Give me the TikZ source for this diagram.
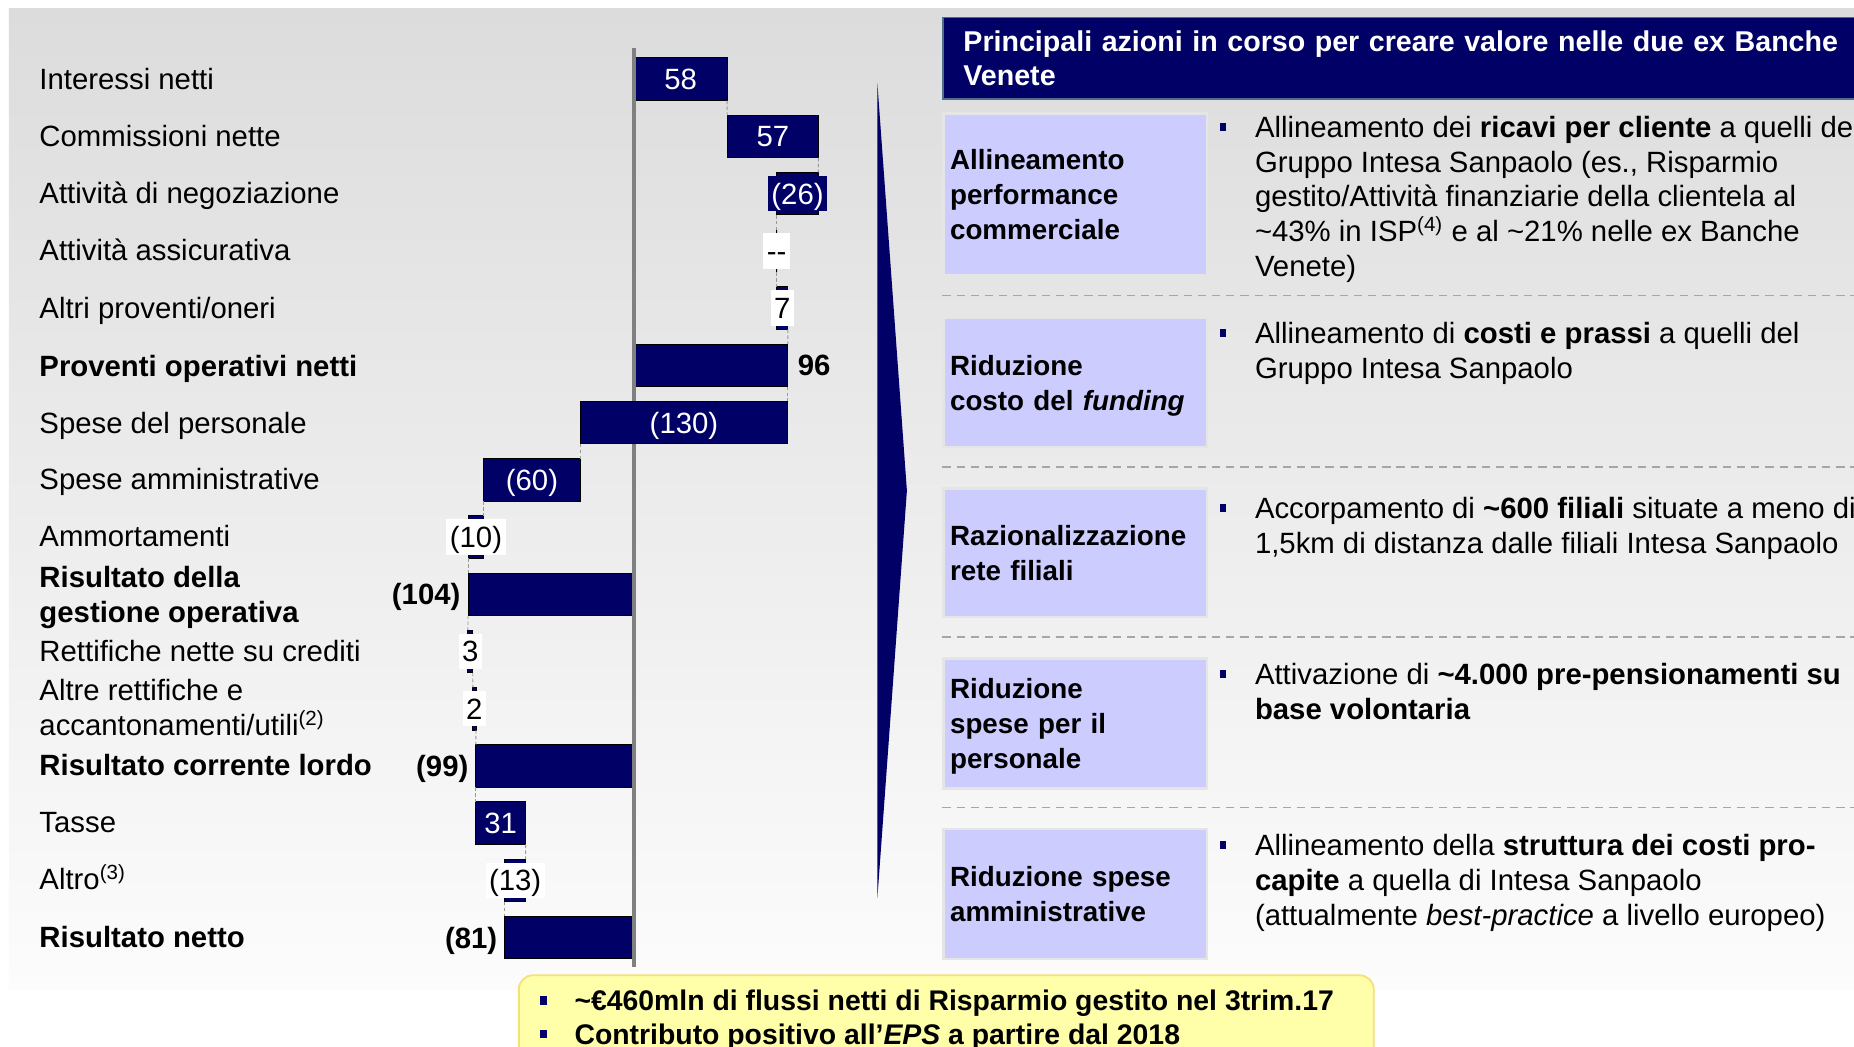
\documentclass[tikz,border=0pt]{standalone}
\usepackage{fontspec}
\setmainfont{Liberation Sans}
\usepackage{tikz}
\usetikzlibrary{positioning}

\definecolor{barnavy}{RGB}{0,0,102}
\definecolor{boxlav}{RGB}{204,204,255}
\definecolor{notefill}{RGB}{255,255,170}
\definecolor{noteline}{RGB}{245,225,120}
\definecolor{bgtop}{RGB}{220,220,220}
\definecolor{bgbot}{RGB}{252,252,252}
\definecolor{axisgray}{RGB}{128,128,128}
\definecolor{hdrline}{RGB}{80,110,140}

\newcommand\chartfont{\fontsize{12.4}{14.75}\selectfont}
\newcommand\catfont{\fontsize{11.75}{14.75}\selectfont}

\tikzset{
  wbar/.style={draw=black,line width=0.4pt,fill=barnavy,minimum height=18pt,inner sep=0pt,outer sep=0pt},
  vlbl/.style={font=\chartfont,text height=9.6pt,text depth=0.8pt,inner sep=0pt},
  inlbl/.style={vlbl,text=white},
  boxlbl/.style={vlbl,fill=white,inner xsep=1.5pt,minimum height=15pt},
  navylbl/.style={vlbl,fill=barnavy,text=white,inner xsep=1.5pt,minimum height=15pt},
  sumlbl/.style={vlbl,font=\chartfont\bfseries},
  rowlbl/.style={font=\chartfont,anchor=base west,inner sep=0pt,align=left},
  rowsum/.style={rowlbl,font=\chartfont\bfseries},
  conn/.style={draw=gray!80,line width=0.4pt,dash pattern=on 1.5pt off 1pt},
  axisln/.style={draw=axisgray,line width=1.7pt},
  hdrbox/.style={fill=barnavy,draw=hdrline,line width=0.8pt,anchor=north west,text width=380pt,
    inner xsep=8.5pt,minimum height=34.5pt,align=left,text=white,font=\fontsize{12.1}{14.65}\selectfont\bfseries},
  catbox/.style={fill=boxlav,draw=black!10,line width=1pt,anchor=north west,text width=106pt,
    inner xsep=2.75pt,align=left,font=\catfont\bfseries},
  itemtxt/.style={font=\chartfont,anchor=base west,inner sep=0pt,align=left},
  bsq/.style={fill=barnavy,minimum width=2.6pt,minimum height=3.4pt,inner sep=0pt},
  sepln/.style={draw=gray!70,line width=0.7pt,dash pattern=on 3.5pt off 2.5pt},
  notebox/.style={fill=notefill,draw=noteline,line width=0.8pt,rounded corners=6pt,anchor=north west,
    minimum width=361.5pt,minimum height=40pt},
  notetxt/.style={font=\fontsize{12}{14.75}\selectfont\bfseries,anchor=base west,inner sep=0pt}
}

\begin{document}
\begin{tikzpicture}[x=0.5pt,y=-0.5pt]
\useasboundingbox (0,0) rectangle (1568,885);
\fill[white] (0,0) rectangle (1568,885);
\shade[top color=bgtop,bottom color=bgbot] (7.6,7.6) rectangle (1568,837);

% voci del conto economico
\node[rowlbl] (l1) at (33,75.6) {Interessi netti};
\node[rowlbl] (l2) at (33,124.2) {Commissioni nette};
\node[rowlbl] (l3) at (33,172.4) {Attività di negoziazione};
\node[rowlbl] (l4) at (33,220.6) {Attività assicurativa};
\node[rowlbl] (l5) at (33,269.2) {Altri proventi/oneri};
\node[rowsum] (l6) at (33,318.4) {Proventi operativi netti};
\node[rowlbl] (l7) at (33,366.5) {Spese del personale};
\node[rowlbl] (l8) at (33,414) {Spese amministrative};
\node[rowlbl] (l9) at (33,462.6) {Ammortamenti};
\node[rowsum] (l10) at (33,526.3) {Risultato della\\gestione operativa};
\node[rowlbl] (l11) at (33,559.8) {Rettifiche nette su crediti};
\node[rowlbl] (l12) at (33,622) {Altre rettifiche e\\accantonamenti/utili\textsuperscript{(2)}};
\node[rowsum] (l13) at (33,656) {Risultato corrente lordo};
\node[rowlbl] (l14) at (33,704.3) {Tasse};
\node[rowlbl] (l15) at (33,752.5) {Altro\textsuperscript{(3)}};
\node[rowsum] (l16) at (33,801) {Risultato netto};

% barre
\node[wbar,minimum width=39.25pt] (b1) at (575.7,67) {};
\node[wbar,minimum width=38.55pt] (b2) at (653.6,115.4) {};
\node[wbar,minimum width=17.6pt] (b3) at (674.5,163.8) {};
\node[wbar,minimum width=0pt] (b4) at (656.9,212.2) {};
\node[wbar,minimum width=4.75pt] (b5) at (661.65,260.6) {};
\node[wbar,minimum width=64.95pt] (b6) at (601.45,309) {};
\node[wbar,minimum width=87.95pt] (b7) at (578.45,357.4) {};
\node[wbar,minimum width=40.6pt] (b8) at (449.9,405.8) {};
\node[wbar,minimum width=6.75pt] (b9) at (402.55,454.2) {};
\node[wbar,minimum width=70.35pt] (b10) at (466.15,502.6) {};
\node[wbar,minimum width=2.03pt] (b11) at (397.8,551) {};
\node[wbar,minimum width=1.35pt] (b12) at (401.2,599.4) {};
\node[wbar,minimum width=66.98pt] (b13) at (469.5,647.8) {};
\node[wbar,minimum width=20.98pt] (b14) at (423.5,696.2) {};
\node[wbar,minimum width=8.8pt] (b15) at (435.7,744.6) {};
\node[wbar,minimum width=54.8pt] (b16) at (481.7,793) {};

\draw[conn] (b1.south east) -- (b2.north west);
\draw[conn] (b2.south east) -- (b3.north east);
\draw[conn] (b3.south west) -- (b4.north);
\draw[conn] (b4.south) -- (b5.north west);
\draw[conn] (b5.south east) -- (b6.north east);
\draw[conn] (b6.south east) -- (b7.north east);
\draw[conn] (b7.south west) -- (b8.north east);
\draw[conn] (b8.south west) -- (b9.north east);
\draw[conn] (b9.south west) -- (b10.north west);
\draw[conn] (b10.south west) -- (b11.north west);
\draw[conn] (b11.south east) -- (b12.north west);
\draw[conn] (b12.south east) -- (b13.north west);
\draw[conn] (b13.south west) -- (b14.north west);
\draw[conn] (b14.south east) -- (b15.north east);
\draw[conn] (b15.south west) -- (b16.north west);

\coordinate (axtop) at (536.5,41);
\coordinate (axbot) at (536.5,818);
\draw[axisln] (axtop) -- (axtop |- b7.north);
\draw[axisln] (axtop |- b7.south) -- (axbot);

% valori
\node[inlbl] (v1) at (b1) {58};
\node[inlbl] (v2) at (b2) {57};
\node[navylbl] (v3) at (b3) {(26)};
\node[boxlbl] (v4) at (b4) {-\kern0pt-};
\node[boxlbl] (v5) at (b5) {7};
\node[sumlbl,right=4pt of b6] (v6) {96};
\node[inlbl] (v7) at (b7) {(130)};
\node[inlbl] (v8) at (b8) {(60)};
\node[boxlbl] (v9) at (b9) {(10)};
\node[sumlbl,left=3pt of b10] (v10) {(104)};
\node[boxlbl] (v11) at (b11) {3};
\node[boxlbl] (v12) at (b12) {2};
\node[sumlbl,left=3pt of b13] (v13) {(99)};
\node[inlbl] (v14) at (b14) {31};
\node[boxlbl] (v15) at (b15) {(13)};
\node[sumlbl,left=3pt of b16] (v16) {(81)};

\fill[barnavy] (742,70) -- (767,415) -- (742,760) -- cycle;

% azioni
\node[hdrbox] (hdr) at (797,14) {Principali azioni in corso per creare valore nelle due ex Banche\\Venete};

\node[catbox,minimum height=68.5pt] (c1) at (797,95) {Allineamento\\performance\\commerciale};
\node[catbox,minimum height=54.5pt,text depth=14.75pt] (c2) at (797,268) {Riduzione\\costo del \textit{funding}};
\node[catbox,minimum height=54.5pt] (c3) at (797,412) {Razionalizzazione\\rete filiali};
\node[catbox,minimum height=55pt,text depth=29.5pt] (c4) at (797,556) {Riduzione\\spese per il\\personale};
\node[catbox,minimum height=55pt] (c5) at (797,700) {Riduzione spese\\amministrative};

\draw[sepln] (797,250) -- (1568,250);
\draw[sepln] (797,394.7) -- (1568,394.7);
\draw[sepln] (797,538.6) -- (1568,538.6);
\draw[sepln] (797,683) -- (1568,683);

\node[bsq] (q1) at (1034,107) {};
\node[itemtxt] (t1) at (1061,234) {Allineamento dei \textbf{ricavi per cliente} a quelli del\\Gruppo Intesa Sanpaolo (es., Risparmio\\gestito/Attività finanziarie della clientela al\\\textasciitilde43\% in ISP\textsuperscript{(4)} e al \textasciitilde21\% nelle ex Banche\\Venete)};
\node[bsq] (q2) at (1034,281.4) {};
\node[itemtxt] (t2) at (1061,319.9) {Allineamento di \textbf{costi e prassi} a quelli del\\Gruppo Intesa Sanpaolo};
\node[bsq] (q3) at (1034,429.9) {};
\node[itemtxt] (t3) at (1061,468.4) {Accorpamento di \textbf{\textasciitilde600 filiali} situate a meno di\\1,5km di distanza dalle filiali Intesa Sanpaolo};
\node[bsq] (q4) at (1034,569.9) {};
\node[itemtxt] (t4) at (1061,608.4) {Attivazione di \textbf{\textasciitilde4.000 pre-pensionamenti su}\\\textbf{base volontaria}};
\node[bsq] (q5) at (1034,714.3) {};
\node[itemtxt] (t5) at (1061,782.3) {Allineamento della \textbf{struttura dei costi pro-}\\\textbf{capite} a quella di Intesa Sanpaolo\\(attualmente \textit{best-practice} a livello europeo)};

% riquadro giallo
\node[notebox] (note) at (438,824) {};
\node[bsq,minimum width=3pt,minimum height=3.6pt] (nq1) at (459.8,846.3) {};
\node[notetxt] (n1) at (485.5,855) {\textasciitilde€460mln di flussi netti di Risparmio gestito nel 3trim.17};
\node[bsq,minimum width=3pt,minimum height=3.6pt] (nq2) at (459.8,874.3) {};
\node[notetxt] (n2) at (485.5,883) {Contributo positivo all’\textit{EPS} a partire dal 2018};
\end{tikzpicture}
\end{document}
